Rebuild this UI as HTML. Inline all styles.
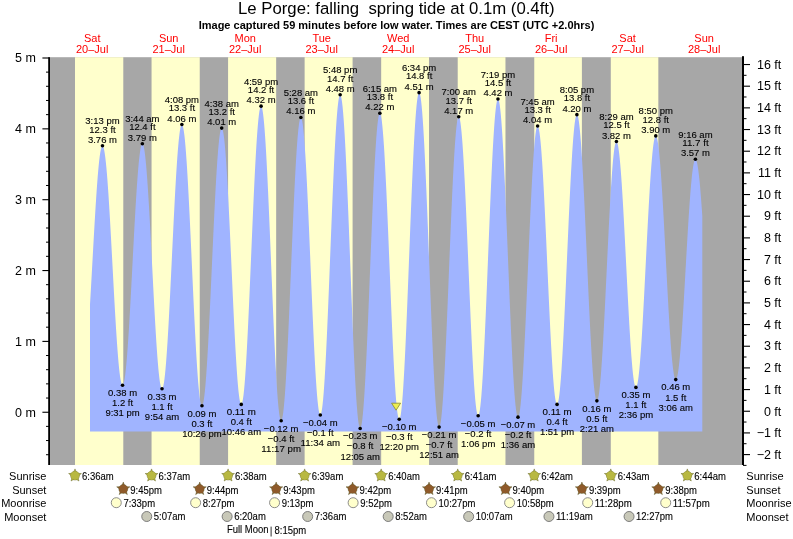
<!DOCTYPE html><html><head><meta charset="utf-8"><style>html,body{margin:0;padding:0;background:#fff;width:793px;height:539px;overflow:hidden}svg{display:block;will-change:transform}text{font-family:"Liberation Sans",sans-serif}</style></head><body>
<svg width="793" height="539" viewBox="0 0 793 539">
<text x="396.3" y="14.3" font-size="16.75" text-anchor="middle" fill="#000">Le Porge: falling &#160;spring tide at 0.1m (0.4ft)</text>
<text x="396.5" y="29" font-size="11" font-weight="bold" text-anchor="middle" fill="#000">Image captured 59 minutes before low water. Times are CEST (UTC +2.0hrs)</text>
<text x="92.21" y="41.8" font-size="11" text-anchor="middle" fill="#ff0000">Sat</text>
<text x="92.21" y="52.8" font-size="11" text-anchor="middle" fill="#ff0000">20–Jul</text>
<text x="168.70" y="41.8" font-size="11" text-anchor="middle" fill="#ff0000">Sun</text>
<text x="168.70" y="52.8" font-size="11" text-anchor="middle" fill="#ff0000">21–Jul</text>
<text x="245.19" y="41.8" font-size="11" text-anchor="middle" fill="#ff0000">Mon</text>
<text x="245.19" y="52.8" font-size="11" text-anchor="middle" fill="#ff0000">22–Jul</text>
<text x="321.68" y="41.8" font-size="11" text-anchor="middle" fill="#ff0000">Tue</text>
<text x="321.68" y="52.8" font-size="11" text-anchor="middle" fill="#ff0000">23–Jul</text>
<text x="398.17" y="41.8" font-size="11" text-anchor="middle" fill="#ff0000">Wed</text>
<text x="398.17" y="52.8" font-size="11" text-anchor="middle" fill="#ff0000">24–Jul</text>
<text x="474.65" y="41.8" font-size="11" text-anchor="middle" fill="#ff0000">Thu</text>
<text x="474.65" y="52.8" font-size="11" text-anchor="middle" fill="#ff0000">25–Jul</text>
<text x="551.14" y="41.8" font-size="11" text-anchor="middle" fill="#ff0000">Fri</text>
<text x="551.14" y="52.8" font-size="11" text-anchor="middle" fill="#ff0000">26–Jul</text>
<text x="627.63" y="41.8" font-size="11" text-anchor="middle" fill="#ff0000">Sat</text>
<text x="627.63" y="52.8" font-size="11" text-anchor="middle" fill="#ff0000">27–Jul</text>
<text x="704.12" y="41.8" font-size="11" text-anchor="middle" fill="#ff0000">Sun</text>
<text x="704.12" y="52.8" font-size="11" text-anchor="middle" fill="#ff0000">28–Jul</text>
<rect x="49" y="57.2" width="694" height="407.8" fill="#a7a7a7"/>
<rect x="75.00" y="57.2" width="48.28" height="407.8" fill="#ffffcc"/>
<rect x="151.55" y="57.2" width="48.18" height="407.8" fill="#ffffcc"/>
<rect x="228.09" y="57.2" width="48.07" height="407.8" fill="#ffffcc"/>
<rect x="304.63" y="57.2" width="47.96" height="407.8" fill="#ffffcc"/>
<rect x="381.17" y="57.2" width="47.86" height="407.8" fill="#ffffcc"/>
<rect x="457.71" y="57.2" width="47.75" height="407.8" fill="#ffffcc"/>
<rect x="534.25" y="57.2" width="47.65" height="407.8" fill="#ffffcc"/>
<rect x="610.79" y="57.2" width="47.54" height="407.8" fill="#ffffcc"/>
<path fill="#a0b4ff" d="M90.00,431.60 L90.00,304.41 L90.51,295.82 L91.02,286.99 L91.53,277.98 L92.04,268.85 L92.55,259.66 L93.06,250.47 L93.57,241.34 L94.08,232.33 L94.59,223.49 L95.10,214.89 L95.61,206.59 L96.12,198.63 L96.63,191.06 L97.14,183.95 L97.65,177.33 L98.16,171.25 L98.67,165.74 L99.18,160.85 L99.69,156.60 L100.20,153.03 L100.72,150.16 L101.23,148.00 L101.74,146.56 L102.25,145.87 L102.76,145.93 L103.27,146.74 L103.78,148.32 L104.29,150.63 L104.80,153.69 L105.31,157.45 L105.82,161.90 L106.33,167.01 L106.84,172.75 L107.35,179.08 L107.86,185.97 L108.37,193.36 L108.88,201.20 L109.39,209.46 L109.90,218.08 L110.41,227.00 L110.92,236.16 L111.43,245.51 L111.94,254.99 L112.45,264.54 L112.96,274.09 L113.47,283.59 L113.98,292.97 L114.49,302.18 L115.00,311.15 L115.51,319.84 L116.02,328.17 L116.53,336.11 L117.04,343.60 L117.55,350.60 L118.06,357.05 L118.57,362.91 L119.08,368.16 L119.59,372.75 L120.10,376.66 L120.61,379.87 L121.13,382.34 L121.64,384.07 L122.15,385.05 L122.66,385.26 L123.17,384.69 L123.68,383.33 L124.19,381.20 L124.70,378.30 L125.21,374.66 L125.72,370.30 L126.23,365.24 L126.74,359.53 L127.25,353.19 L127.76,346.28 L128.27,338.83 L128.78,330.89 L129.29,322.52 L129.80,313.76 L130.31,304.69 L130.82,295.35 L131.33,285.81 L131.84,276.13 L132.35,266.38 L132.86,256.61 L133.37,246.89 L133.88,237.29 L134.39,227.87 L134.90,218.68 L135.41,209.80 L135.92,201.27 L136.43,193.16 L136.94,185.51 L137.45,178.38 L137.96,171.82 L138.47,165.85 L138.98,160.54 L139.49,155.90 L140.00,151.98 L140.51,148.79 L141.02,146.36 L141.54,144.70 L142.05,143.83 L142.56,143.74 L143.07,144.47 L143.58,146.00 L144.09,148.34 L144.60,151.46 L145.11,155.34 L145.62,159.96 L146.13,165.29 L146.64,171.28 L147.15,177.91 L147.66,185.13 L148.17,192.89 L148.68,201.13 L149.19,209.81 L149.70,218.86 L150.21,228.23 L150.72,237.85 L151.23,247.65 L151.74,257.59 L152.25,267.58 L152.76,277.56 L153.27,287.46 L153.78,297.23 L154.29,306.79 L154.80,316.08 L155.31,325.04 L155.82,333.60 L156.33,341.72 L156.84,349.34 L157.35,356.41 L157.86,362.87 L158.37,368.69 L158.88,373.84 L159.39,378.26 L159.90,381.95 L160.41,384.86 L160.92,386.98 L161.44,388.30 L161.95,388.81 L162.46,388.49 L162.97,387.31 L163.48,385.28 L163.99,382.41 L164.50,378.73 L165.01,374.25 L165.52,369.01 L166.03,363.03 L166.54,356.36 L167.05,349.05 L167.56,341.13 L168.07,332.66 L168.58,323.70 L169.09,314.31 L169.60,304.53 L170.11,294.45 L170.62,284.12 L171.13,273.61 L171.64,262.99 L172.15,252.34 L172.66,241.71 L173.17,231.17 L173.68,220.80 L174.19,210.67 L174.70,200.84 L175.21,191.37 L175.72,182.32 L176.23,173.76 L176.74,165.74 L177.25,158.31 L177.76,151.52 L178.27,145.41 L178.78,140.03 L179.29,135.41 L179.80,131.57 L180.31,128.55 L180.82,126.37 L181.33,125.03 L181.84,124.55 L182.36,124.95 L182.87,126.23 L183.38,128.41 L183.89,131.45 L184.40,135.35 L184.91,140.08 L185.42,145.60 L185.93,151.88 L186.44,158.89 L186.95,166.57 L187.46,174.88 L187.97,183.77 L188.48,193.17 L188.99,203.03 L189.50,213.29 L190.01,223.88 L190.52,234.74 L191.03,245.78 L191.54,256.96 L192.05,268.18 L192.56,279.38 L193.07,290.50 L193.58,301.45 L194.09,312.17 L194.60,322.59 L195.11,332.65 L195.62,342.28 L196.13,351.41 L196.64,360.00 L197.15,367.98 L197.66,375.31 L198.17,381.93 L198.68,387.82 L199.19,392.92 L199.70,397.20 L200.21,400.65 L200.72,403.23 L201.23,404.94 L201.74,405.75 L202.25,405.66 L202.77,404.67 L203.28,402.77 L203.79,399.97 L204.30,396.30 L204.81,391.78 L205.32,386.44 L205.83,380.31 L206.34,373.43 L206.85,365.86 L207.36,357.64 L207.87,348.81 L208.38,339.46 L208.89,329.62 L209.40,319.37 L209.91,308.78 L210.42,297.91 L210.93,286.84 L211.44,275.63 L211.95,264.37 L212.46,253.13 L212.97,241.98 L213.48,230.99 L213.99,220.24 L214.50,209.80 L215.01,199.73 L215.52,190.10 L216.03,180.98 L216.54,172.43 L217.05,164.50 L217.56,157.24 L218.07,150.70 L218.58,144.93 L219.09,139.96 L219.60,135.82 L220.11,132.55 L220.62,130.17 L221.13,128.68 L221.64,128.10 L222.15,128.44 L222.66,129.71 L223.18,131.89 L223.69,134.98 L224.20,138.95 L224.71,143.78 L225.22,149.43 L225.73,155.86 L226.24,163.04 L226.75,170.91 L227.26,179.42 L227.77,188.51 L228.28,198.13 L228.79,208.20 L229.30,218.67 L229.81,229.45 L230.32,240.48 L230.83,251.69 L231.34,262.99 L231.85,274.32 L232.36,285.59 L232.87,296.73 L233.38,307.67 L233.89,318.32 L234.40,328.63 L234.91,338.52 L235.42,347.92 L235.93,356.78 L236.44,365.02 L236.95,372.60 L237.46,379.47 L237.97,385.57 L238.48,390.88 L238.99,395.34 L239.50,398.94 L240.01,401.65 L240.52,403.44 L241.03,404.32 L241.54,404.25 L242.05,403.22 L242.56,401.22 L243.07,398.27 L243.59,394.38 L244.10,389.58 L244.61,383.90 L245.12,377.38 L245.63,370.06 L246.14,361.99 L246.65,353.22 L247.16,343.81 L247.67,333.82 L248.18,323.32 L248.69,312.37 L249.20,301.05 L249.71,289.43 L250.22,277.58 L250.73,265.59 L251.24,253.53 L251.75,241.49 L252.26,229.53 L252.77,217.74 L253.28,206.20 L253.79,194.98 L254.30,184.15 L254.81,173.79 L255.32,163.96 L255.83,154.73 L256.34,146.15 L256.85,138.29 L257.36,131.20 L257.87,124.91 L258.38,119.48 L258.89,114.94 L259.40,111.32 L259.91,108.64 L260.42,106.92 L260.93,106.16 L261.44,106.39 L261.95,107.62 L262.46,109.85 L262.97,113.05 L263.49,117.21 L264.00,122.30 L264.51,128.29 L265.02,135.14 L265.53,142.80 L266.04,151.24 L266.55,160.39 L267.06,170.20 L267.57,180.60 L268.08,191.53 L268.59,202.91 L269.10,214.68 L269.61,226.77 L270.12,239.08 L270.63,251.55 L271.14,264.10 L271.65,276.64 L272.16,289.10 L272.67,301.39 L273.18,313.45 L273.69,325.18 L274.20,336.52 L274.71,347.39 L275.22,357.73 L275.73,367.47 L276.24,376.54 L276.75,384.90 L277.26,392.48 L277.77,399.24 L278.28,405.13 L278.79,410.12 L279.30,414.18 L279.81,417.27 L280.32,419.39 L280.83,420.51 L281.34,420.63 L281.85,419.75 L282.36,417.87 L282.87,415.01 L283.38,411.18 L283.89,406.41 L284.41,400.74 L284.92,394.19 L285.43,386.82 L285.94,378.67 L286.45,369.79 L286.96,360.25 L287.47,350.10 L287.98,339.42 L288.49,328.28 L289.00,316.74 L289.51,304.89 L290.02,292.80 L290.53,280.55 L291.04,268.23 L291.55,255.91 L292.06,243.68 L292.57,231.62 L293.08,219.81 L293.59,208.32 L294.10,197.23 L294.61,186.62 L295.12,176.56 L295.63,167.10 L296.14,158.32 L296.65,150.28 L297.16,143.01 L297.67,136.59 L298.18,131.04 L298.69,126.40 L299.20,122.70 L299.71,119.98 L300.22,118.24 L300.73,117.49 L301.24,117.76 L301.75,119.03 L302.26,121.30 L302.77,124.55 L303.28,128.77 L303.79,133.93 L304.30,139.98 L304.82,146.89 L305.33,154.61 L305.84,163.09 L306.35,172.27 L306.86,182.09 L307.37,192.48 L307.88,203.37 L308.39,214.69 L308.90,226.37 L309.41,238.31 L309.92,250.44 L310.43,262.68 L310.94,274.94 L311.45,287.14 L311.96,299.20 L312.47,311.04 L312.98,322.58 L313.49,333.73 L314.00,344.42 L314.51,354.58 L315.02,364.14 L315.53,373.04 L316.04,381.21 L316.55,388.60 L317.06,395.15 L317.57,400.84 L318.08,405.60 L318.59,409.42 L319.10,412.27 L319.61,414.12 L320.12,414.98 L320.63,414.81 L321.14,413.60 L321.65,411.36 L322.16,408.11 L322.67,403.85 L323.18,398.63 L323.69,392.47 L324.20,385.42 L324.72,377.52 L325.23,368.82 L325.74,359.37 L326.25,349.25 L326.76,338.52 L327.27,327.24 L327.78,315.49 L328.29,303.34 L328.80,290.88 L329.31,278.19 L329.82,265.35 L330.33,252.43 L330.84,239.54 L331.35,226.74 L331.86,214.13 L332.37,201.78 L332.88,189.78 L333.39,178.20 L333.90,167.12 L334.41,156.61 L334.92,146.74 L335.43,137.58 L335.94,129.18 L336.45,121.60 L336.96,114.88 L337.47,109.08 L337.98,104.22 L338.49,100.35 L339.00,97.48 L339.51,95.64 L340.02,94.83 L340.53,95.07 L341.04,96.38 L341.55,98.75 L342.06,102.16 L342.57,106.59 L343.08,112.01 L343.59,118.39 L344.10,125.69 L344.61,133.86 L345.12,142.85 L345.64,152.60 L346.15,163.05 L346.66,174.13 L347.17,185.77 L347.68,197.90 L348.19,210.43 L348.70,223.29 L349.21,236.40 L349.72,249.67 L350.23,263.02 L350.74,276.35 L351.25,289.60 L351.76,302.66 L352.27,315.46 L352.78,327.92 L353.29,339.95 L353.80,351.48 L354.31,362.44 L354.82,372.75 L355.33,382.35 L355.84,391.17 L356.35,399.17 L356.86,406.28 L357.37,412.47 L357.88,417.69 L358.39,421.92 L358.90,425.11 L359.41,427.26 L359.92,428.35 L360.43,428.37 L360.94,427.35 L361.45,425.28 L361.96,422.19 L362.47,418.09 L362.98,413.01 L363.49,406.98 L364.00,400.06 L364.51,392.27 L365.02,383.67 L365.53,374.33 L366.05,364.29 L366.56,353.64 L367.07,342.43 L367.58,330.75 L368.09,318.67 L368.60,306.27 L369.11,293.64 L369.62,280.86 L370.13,268.00 L370.64,255.17 L371.15,242.44 L371.66,229.91 L372.17,217.64 L372.68,205.73 L373.19,194.25 L373.70,183.28 L374.21,172.89 L374.72,163.15 L375.23,154.13 L375.74,145.89 L376.25,138.47 L376.76,131.94 L377.27,126.33 L377.78,121.68 L378.29,118.02 L378.80,115.38 L379.31,113.78 L379.82,113.21 L380.33,113.70 L380.84,115.22 L381.35,117.78 L381.86,121.36 L382.37,125.92 L382.88,131.44 L383.39,137.88 L383.90,145.20 L384.41,153.35 L384.92,162.27 L385.43,171.90 L385.94,182.17 L386.46,193.02 L386.97,204.37 L387.48,216.14 L387.99,228.25 L388.50,240.62 L389.01,253.17 L389.52,265.81 L390.03,278.45 L390.54,291.01 L391.05,303.39 L391.56,315.53 L392.07,327.32 L392.58,338.70 L393.09,349.59 L393.60,359.91 L394.11,369.58 L394.62,378.55 L395.13,386.75 L395.64,394.13 L396.15,400.64 L396.66,406.22 L397.17,410.86 L397.68,414.50 L398.19,417.13 L398.70,418.73 L399.21,419.28 L399.72,418.79 L400.23,417.23 L400.74,414.63 L401.25,410.99 L401.76,406.34 L402.27,400.72 L402.78,394.15 L403.29,386.68 L403.80,378.37 L404.31,369.25 L404.82,359.40 L405.33,348.88 L405.84,337.75 L406.36,326.09 L406.87,313.98 L407.38,301.48 L407.89,288.69 L408.40,275.69 L408.91,262.56 L409.42,249.38 L409.93,236.25 L410.44,223.25 L410.95,210.46 L411.46,197.97 L411.97,185.85 L412.48,174.19 L412.99,163.06 L413.50,152.54 L414.01,142.69 L414.52,133.58 L415.03,125.26 L415.54,117.79 L416.05,111.23 L416.56,105.60 L417.07,100.96 L417.58,97.32 L418.09,94.72 L418.60,93.16 L419.11,92.67 L419.62,93.24 L420.13,94.88 L420.64,97.57 L421.15,101.31 L421.66,106.06 L422.17,111.79 L422.68,118.48 L423.19,126.07 L423.70,134.52 L424.21,143.76 L424.72,153.76 L425.23,164.43 L425.74,175.71 L426.25,187.54 L426.76,199.82 L427.28,212.49 L427.79,225.47 L428.30,238.66 L428.81,251.99 L429.32,265.37 L429.83,278.72 L430.34,291.95 L430.85,304.96 L431.36,317.70 L431.87,330.06 L432.38,341.97 L432.89,353.35 L433.40,364.14 L433.91,374.26 L434.42,383.64 L434.93,392.24 L435.44,399.98 L435.95,406.83 L436.46,412.74 L436.97,417.67 L437.48,421.58 L437.99,424.47 L438.50,426.29 L439.01,427.05 L439.52,426.76 L440.03,425.42 L440.54,423.06 L441.05,419.69 L441.56,415.33 L442.07,410.01 L442.58,403.77 L443.09,396.65 L443.60,388.69 L444.11,379.96 L444.62,370.50 L445.13,360.38 L445.64,349.67 L446.15,338.44 L446.66,326.77 L447.17,314.73 L447.69,302.40 L448.20,289.87 L448.71,277.22 L449.22,264.53 L449.73,251.90 L450.24,239.39 L450.75,227.11 L451.26,215.12 L451.77,203.52 L452.28,192.37 L452.79,181.75 L453.30,171.73 L453.81,162.39 L454.32,153.78 L454.83,145.96 L455.34,138.97 L455.85,132.88 L456.36,127.72 L456.87,123.52 L457.38,120.32 L457.89,118.12 L458.40,116.96 L458.91,116.83 L459.42,117.72 L459.93,119.61 L460.44,122.51 L460.95,126.38 L461.46,131.20 L461.97,136.94 L462.48,143.56 L462.99,151.01 L463.50,159.25 L464.01,168.21 L464.52,177.84 L465.03,188.07 L465.54,198.83 L466.05,210.05 L466.56,221.65 L467.07,233.55 L467.59,245.68 L468.10,257.94 L468.61,270.26 L469.12,282.56 L469.63,294.74 L470.14,306.73 L470.65,318.45 L471.16,329.81 L471.67,340.73 L472.18,351.16 L472.69,361.00 L473.20,370.20 L473.71,378.70 L474.22,386.43 L474.73,393.34 L475.24,399.40 L475.75,404.54 L476.26,408.75 L476.77,411.99 L477.28,414.23 L477.79,415.48 L478.30,415.70 L478.81,414.90 L479.32,413.07 L479.83,410.21 L480.34,406.36 L480.85,401.54 L481.36,395.77 L481.87,389.09 L482.38,381.55 L482.89,373.21 L483.40,364.10 L483.91,354.29 L484.42,343.86 L484.93,332.85 L485.44,321.35 L485.95,309.44 L486.46,297.18 L486.97,284.66 L487.48,271.97 L487.99,259.17 L488.51,246.37 L489.02,233.64 L489.53,221.07 L490.04,208.73 L490.55,196.71 L491.06,185.09 L491.57,173.94 L492.08,163.33 L492.59,153.35 L493.10,144.04 L493.61,135.47 L494.12,127.71 L494.63,120.79 L495.14,114.76 L495.65,109.67 L496.16,105.54 L496.67,102.41 L497.18,100.29 L497.69,99.20 L498.20,99.14 L498.71,100.11 L499.22,102.08 L499.73,105.06 L500.24,109.01 L500.75,113.92 L501.26,119.76 L501.77,126.47 L502.28,134.04 L502.79,142.39 L503.30,151.49 L503.81,161.27 L504.32,171.67 L504.83,182.63 L505.34,194.06 L505.85,205.91 L506.36,218.09 L506.87,230.53 L507.38,243.15 L507.89,255.86 L508.40,268.58 L508.92,281.24 L509.43,293.75 L509.94,306.03 L510.45,318.00 L510.96,329.60 L511.47,340.73 L511.98,351.33 L512.49,361.34 L513.00,370.68 L513.51,379.31 L514.02,387.16 L514.53,394.18 L515.04,400.33 L515.55,405.57 L516.06,409.86 L516.57,413.18 L517.08,415.51 L517.59,416.83 L518.10,417.14 L518.61,416.46 L519.12,414.81 L519.63,412.20 L520.14,408.65 L520.65,404.19 L521.16,398.83 L521.67,392.63 L522.18,385.62 L522.69,377.85 L523.20,369.36 L523.71,360.22 L524.22,350.49 L524.73,340.23 L525.24,329.51 L525.75,318.41 L526.26,306.99 L526.77,295.33 L527.28,283.52 L527.79,271.63 L528.30,259.73 L528.81,247.92 L529.33,236.26 L529.84,224.84 L530.35,213.73 L530.86,203.01 L531.37,192.74 L531.88,183.00 L532.39,173.86 L532.90,165.37 L533.41,157.59 L533.92,150.56 L534.43,144.35 L534.94,138.99 L535.45,134.52 L535.96,130.96 L536.47,128.34 L536.98,126.68 L537.49,125.99 L538.00,126.26 L538.51,127.48 L539.02,129.63 L539.53,132.70 L540.04,136.68 L540.55,141.52 L541.06,147.21 L541.57,153.70 L542.08,160.95 L542.59,168.90 L543.10,177.51 L543.61,186.72 L544.12,196.46 L544.63,206.66 L545.14,217.26 L545.65,228.19 L546.16,239.37 L546.67,250.73 L547.18,262.18 L547.69,273.65 L548.20,285.07 L548.71,296.35 L549.23,307.42 L549.74,318.20 L550.25,328.63 L550.76,338.62 L551.27,348.11 L551.78,357.04 L552.29,365.34 L552.80,372.97 L553.31,379.86 L553.82,385.97 L554.33,391.26 L554.84,395.70 L555.35,399.25 L555.86,401.88 L556.37,403.59 L556.88,404.36 L557.39,404.18 L557.90,403.06 L558.41,401.01 L558.92,398.04 L559.43,394.16 L559.94,389.41 L560.45,383.81 L560.96,377.41 L561.47,370.24 L561.98,362.34 L562.49,353.78 L563.00,344.61 L563.51,334.88 L564.02,324.66 L564.53,314.01 L565.04,303.01 L565.55,291.73 L566.06,280.24 L566.57,268.61 L567.08,256.93 L567.59,245.26 L568.10,233.69 L568.61,222.28 L569.12,211.11 L569.63,200.26 L570.15,189.80 L570.66,179.79 L571.17,170.30 L571.68,161.38 L572.19,153.11 L572.70,145.53 L573.21,138.69 L573.72,132.64 L574.23,127.41 L574.74,123.05 L575.25,119.57 L575.76,117.00 L576.27,115.36 L576.78,114.66 L577.29,114.89 L577.80,116.05 L578.31,118.11 L578.82,121.08 L579.33,124.93 L579.84,129.63 L580.35,135.15 L580.86,141.47 L581.37,148.53 L581.88,156.30 L582.39,164.72 L582.90,173.74 L583.41,183.30 L583.92,193.34 L584.43,203.80 L584.94,214.60 L585.45,225.68 L585.96,236.96 L586.47,248.38 L586.98,259.86 L587.49,271.33 L588.00,282.71 L588.51,293.93 L589.02,304.91 L589.53,315.59 L590.04,325.90 L590.56,335.77 L591.07,345.14 L591.58,353.95 L592.09,362.13 L592.60,369.65 L593.11,376.44 L593.62,382.47 L594.13,387.70 L594.64,392.09 L595.15,395.61 L595.66,398.25 L596.17,399.98 L596.68,400.80 L597.19,400.70 L597.70,399.73 L598.21,397.90 L598.72,395.21 L599.23,391.69 L599.74,387.37 L600.25,382.26 L600.76,376.40 L601.27,369.84 L601.78,362.61 L602.29,354.78 L602.80,346.37 L603.31,337.47 L603.82,328.12 L604.33,318.38 L604.84,308.33 L605.35,298.03 L605.86,287.55 L606.37,276.96 L606.88,266.33 L607.39,255.73 L607.90,245.24 L608.41,234.92 L608.92,224.84 L609.43,215.08 L609.94,205.70 L610.45,196.75 L610.97,188.31 L611.48,180.42 L611.99,173.14 L612.50,166.52 L613.01,160.61 L613.52,155.44 L614.03,151.05 L614.54,147.46 L615.05,144.71 L615.56,142.80 L616.07,141.76 L616.58,141.59 L617.09,142.26 L617.60,143.75 L618.11,146.06 L618.62,149.18 L619.13,153.07 L619.64,157.71 L620.15,163.07 L620.66,169.12 L621.17,175.82 L621.68,183.11 L622.19,190.95 L622.70,199.29 L623.21,208.07 L623.72,217.23 L624.23,226.72 L624.74,236.45 L625.25,246.38 L625.76,256.42 L626.27,266.53 L626.78,276.62 L627.29,286.62 L627.80,296.48 L628.31,306.12 L628.82,315.48 L629.33,324.49 L629.84,333.10 L630.35,341.25 L630.87,348.87 L631.38,355.93 L631.89,362.37 L632.40,368.14 L632.91,373.22 L633.42,377.56 L633.93,381.14 L634.44,383.93 L634.95,385.91 L635.46,387.07 L635.97,387.40 L636.48,386.91 L636.99,385.60 L637.50,383.49 L638.01,380.58 L638.52,376.90 L639.03,372.47 L639.54,367.32 L640.05,361.48 L640.56,354.99 L641.07,347.89 L641.58,340.24 L642.09,332.07 L642.60,323.44 L643.11,314.41 L643.62,305.04 L644.13,295.38 L644.64,285.51 L645.15,275.48 L645.66,265.36 L646.17,255.21 L646.68,245.11 L647.19,235.12 L647.70,225.29 L648.21,215.71 L648.72,206.42 L649.23,197.49 L649.74,188.98 L650.25,180.95 L650.76,173.43 L651.27,166.50 L651.79,160.18 L652.30,154.52 L652.81,149.56 L653.32,145.33 L653.83,141.85 L654.34,139.16 L654.85,137.26 L655.36,136.17 L655.87,135.90 L656.38,136.42 L656.89,137.72 L657.40,139.80 L657.91,142.64 L658.42,146.22 L658.93,150.51 L659.44,155.50 L659.95,161.14 L660.46,167.41 L660.97,174.26 L661.48,181.65 L661.99,189.52 L662.50,197.84 L663.01,206.54 L663.52,215.57 L664.03,224.87 L664.54,234.39 L665.05,244.05 L665.56,253.80 L666.07,263.58 L666.58,273.32 L667.09,282.96 L667.60,292.44 L668.11,301.69 L668.62,310.67 L669.13,319.30 L669.64,327.53 L670.15,335.32 L670.66,342.60 L671.17,349.34 L671.69,355.49 L672.20,361.01 L672.71,365.87 L673.22,370.03 L673.73,373.46 L674.24,376.15 L674.75,378.08 L675.26,379.24 L675.77,379.61 L676.28,379.22 L676.79,378.11 L677.30,376.27 L677.81,373.72 L678.32,370.48 L678.83,366.57 L679.34,362.01 L679.85,356.83 L680.36,351.08 L680.87,344.78 L681.38,337.98 L681.89,330.72 L682.40,323.06 L682.91,315.04 L683.42,306.72 L683.93,298.15 L684.44,289.39 L684.95,280.49 L685.46,271.52 L685.97,262.54 L686.48,253.61 L686.99,244.78 L687.50,236.11 L688.01,227.67 L688.52,219.50 L689.03,211.66 L689.54,204.21 L690.05,197.20 L690.56,190.66 L691.07,184.65 L691.58,179.20 L692.09,174.35 L692.61,170.13 L693.12,166.57 L693.63,163.70 L694.14,161.53 L694.65,160.08 L695.16,159.35 L695.67,159.35 L696.18,160.04 L696.69,161.41 L697.20,163.46 L697.71,166.15 L698.22,169.49 L698.73,173.45 L699.24,178.00 L699.75,183.11 L700.26,188.75 L700.77,194.88 L701.28,201.47 L701.79,208.47 L702.30,215.83 L702.30,431.60 Z"/>
<rect x="48.2" y="57.2" width="1.8" height="407.8" fill="#000"/>
<rect x="742" y="56.2" width="2" height="408.8" fill="#000"/>
<rect x="42.4" y="411.70" width="6.6" height="1.1" fill="#000"/>
<text x="35.8" y="416.50" font-size="12.5" text-anchor="end" fill="#000">0 m</text>
<rect x="42.4" y="340.85" width="6.6" height="1.1" fill="#000"/>
<text x="35.8" y="345.65" font-size="12.5" text-anchor="end" fill="#000">1 m</text>
<rect x="42.4" y="270.00" width="6.6" height="1.1" fill="#000"/>
<text x="35.8" y="274.80" font-size="12.5" text-anchor="end" fill="#000">2 m</text>
<rect x="42.4" y="199.15" width="6.6" height="1.1" fill="#000"/>
<text x="35.8" y="203.95" font-size="12.5" text-anchor="end" fill="#000">3 m</text>
<rect x="42.4" y="128.30" width="6.6" height="1.1" fill="#000"/>
<text x="35.8" y="133.10" font-size="12.5" text-anchor="end" fill="#000">4 m</text>
<rect x="42.4" y="57.45" width="6.6" height="1.1" fill="#000"/>
<text x="35.8" y="62.25" font-size="12.5" text-anchor="end" fill="#000">5 m</text>
<rect x="46" y="454.21" width="3" height="1" fill="#000"/>
<rect x="46" y="440.04" width="3" height="1" fill="#000"/>
<rect x="46" y="425.87" width="3" height="1" fill="#000"/>
<rect x="46" y="397.53" width="3" height="1" fill="#000"/>
<rect x="46" y="383.36" width="3" height="1" fill="#000"/>
<rect x="46" y="369.19" width="3" height="1" fill="#000"/>
<rect x="46" y="355.02" width="3" height="1" fill="#000"/>
<rect x="46" y="326.68" width="3" height="1" fill="#000"/>
<rect x="46" y="312.51" width="3" height="1" fill="#000"/>
<rect x="46" y="298.34" width="3" height="1" fill="#000"/>
<rect x="46" y="284.17" width="3" height="1" fill="#000"/>
<rect x="46" y="255.83" width="3" height="1" fill="#000"/>
<rect x="46" y="241.66" width="3" height="1" fill="#000"/>
<rect x="46" y="227.49" width="3" height="1" fill="#000"/>
<rect x="46" y="213.32" width="3" height="1" fill="#000"/>
<rect x="46" y="184.98" width="3" height="1" fill="#000"/>
<rect x="46" y="170.81" width="3" height="1" fill="#000"/>
<rect x="46" y="156.64" width="3" height="1" fill="#000"/>
<rect x="46" y="142.47" width="3" height="1" fill="#000"/>
<rect x="46" y="114.13" width="3" height="1" fill="#000"/>
<rect x="46" y="99.96" width="3" height="1" fill="#000"/>
<rect x="46" y="85.79" width="3" height="1" fill="#000"/>
<rect x="46" y="71.62" width="3" height="1" fill="#000"/>
<rect x="743" y="464.88" width="3.5" height="1" fill="#000"/>
<rect x="743" y="454.04" width="7" height="1.1" fill="#000"/>
<text x="781.3" y="458.84" font-size="12.5" text-anchor="end" fill="#000">−2 ft</text>
<rect x="743" y="443.20" width="3.5" height="1" fill="#000"/>
<rect x="743" y="432.37" width="7" height="1.1" fill="#000"/>
<text x="781.3" y="437.17" font-size="12.5" text-anchor="end" fill="#000">−1 ft</text>
<rect x="743" y="421.53" width="3.5" height="1" fill="#000"/>
<rect x="743" y="410.70" width="7" height="1.1" fill="#000"/>
<text x="781.3" y="415.50" font-size="12.5" text-anchor="end" fill="#000">0 ft</text>
<rect x="743" y="399.87" width="3.5" height="1" fill="#000"/>
<rect x="743" y="389.03" width="7" height="1.1" fill="#000"/>
<text x="781.3" y="393.83" font-size="12.5" text-anchor="end" fill="#000">1 ft</text>
<rect x="743" y="378.19" width="3.5" height="1" fill="#000"/>
<rect x="743" y="367.36" width="7" height="1.1" fill="#000"/>
<text x="781.3" y="372.16" font-size="12.5" text-anchor="end" fill="#000">2 ft</text>
<rect x="743" y="356.52" width="3.5" height="1" fill="#000"/>
<rect x="743" y="345.69" width="7" height="1.1" fill="#000"/>
<text x="781.3" y="350.49" font-size="12.5" text-anchor="end" fill="#000">3 ft</text>
<rect x="743" y="334.86" width="3.5" height="1" fill="#000"/>
<rect x="743" y="324.02" width="7" height="1.1" fill="#000"/>
<text x="781.3" y="328.82" font-size="12.5" text-anchor="end" fill="#000">4 ft</text>
<rect x="743" y="313.18" width="3.5" height="1" fill="#000"/>
<rect x="743" y="302.35" width="7" height="1.1" fill="#000"/>
<text x="781.3" y="307.15" font-size="12.5" text-anchor="end" fill="#000">5 ft</text>
<rect x="743" y="291.51" width="3.5" height="1" fill="#000"/>
<rect x="743" y="280.68" width="7" height="1.1" fill="#000"/>
<text x="781.3" y="285.48" font-size="12.5" text-anchor="end" fill="#000">6 ft</text>
<rect x="743" y="269.84" width="3.5" height="1" fill="#000"/>
<rect x="743" y="259.01" width="7" height="1.1" fill="#000"/>
<text x="781.3" y="263.81" font-size="12.5" text-anchor="end" fill="#000">7 ft</text>
<rect x="743" y="248.17" width="3.5" height="1" fill="#000"/>
<rect x="743" y="237.34" width="7" height="1.1" fill="#000"/>
<text x="781.3" y="242.14" font-size="12.5" text-anchor="end" fill="#000">8 ft</text>
<rect x="743" y="226.50" width="3.5" height="1" fill="#000"/>
<rect x="743" y="215.67" width="7" height="1.1" fill="#000"/>
<text x="781.3" y="220.47" font-size="12.5" text-anchor="end" fill="#000">9 ft</text>
<rect x="743" y="204.83" width="3.5" height="1" fill="#000"/>
<rect x="743" y="194.00" width="7" height="1.1" fill="#000"/>
<text x="781.3" y="198.80" font-size="12.5" text-anchor="end" fill="#000">10 ft</text>
<rect x="743" y="183.16" width="3.5" height="1" fill="#000"/>
<rect x="743" y="172.33" width="7" height="1.1" fill="#000"/>
<text x="781.3" y="177.13" font-size="12.5" text-anchor="end" fill="#000">11 ft</text>
<rect x="743" y="161.49" width="3.5" height="1" fill="#000"/>
<rect x="743" y="150.66" width="7" height="1.1" fill="#000"/>
<text x="781.3" y="155.46" font-size="12.5" text-anchor="end" fill="#000">12 ft</text>
<rect x="743" y="139.82" width="3.5" height="1" fill="#000"/>
<rect x="743" y="128.99" width="7" height="1.1" fill="#000"/>
<text x="781.3" y="133.79" font-size="12.5" text-anchor="end" fill="#000">13 ft</text>
<rect x="743" y="118.15" width="3.5" height="1" fill="#000"/>
<rect x="743" y="107.32" width="7" height="1.1" fill="#000"/>
<text x="781.3" y="112.12" font-size="12.5" text-anchor="end" fill="#000">14 ft</text>
<rect x="743" y="96.48" width="3.5" height="1" fill="#000"/>
<rect x="743" y="85.65" width="7" height="1.1" fill="#000"/>
<text x="781.3" y="90.45" font-size="12.5" text-anchor="end" fill="#000">15 ft</text>
<rect x="743" y="74.81" width="3.5" height="1" fill="#000"/>
<rect x="743" y="63.98" width="7" height="1.1" fill="#000"/>
<text x="781.3" y="68.78" font-size="12.5" text-anchor="end" fill="#000">16 ft</text>
<circle cx="102.47" cy="145.80" r="1.8" fill="#000"/>
<text x="102.47" y="124.40" font-size="9.75" text-anchor="middle" fill="#000" stroke="#000" stroke-width="0.18" stroke-opacity="0.6" textLength="34.33" lengthAdjust="spacingAndGlyphs">3:13 pm</text>
<text x="102.47" y="132.60" font-size="9.75" text-anchor="middle" fill="#000" stroke="#000" stroke-width="0.18" stroke-opacity="0.6" textLength="26.41" lengthAdjust="spacingAndGlyphs">12.3 ft</text>
<text x="102.47" y="142.80" font-size="9.75" text-anchor="middle" fill="#000" stroke="#000" stroke-width="0.18" stroke-opacity="0.6" textLength="29.04" lengthAdjust="spacingAndGlyphs">3.76 m</text>
<circle cx="122.54" cy="385.28" r="1.8" fill="#000"/>
<text x="122.54" y="396.08" font-size="9.75" text-anchor="middle" fill="#000" stroke="#000" stroke-width="0.18" stroke-opacity="0.6" textLength="29.04" lengthAdjust="spacingAndGlyphs">0.38 m</text>
<text x="122.54" y="406.18" font-size="9.75" text-anchor="middle" fill="#000" stroke="#000" stroke-width="0.18" stroke-opacity="0.6" textLength="21.12" lengthAdjust="spacingAndGlyphs">1.2 ft</text>
<text x="122.54" y="416.28" font-size="9.75" text-anchor="middle" fill="#000" stroke="#000" stroke-width="0.18" stroke-opacity="0.6" textLength="34.33" lengthAdjust="spacingAndGlyphs">9:31 pm</text>
<circle cx="142.36" cy="143.68" r="1.8" fill="#000"/>
<text x="142.36" y="122.28" font-size="9.75" text-anchor="middle" fill="#000" stroke="#000" stroke-width="0.18" stroke-opacity="0.6" textLength="34.33" lengthAdjust="spacingAndGlyphs">3:44 am</text>
<text x="142.36" y="130.48" font-size="9.75" text-anchor="middle" fill="#000" stroke="#000" stroke-width="0.18" stroke-opacity="0.6" textLength="26.41" lengthAdjust="spacingAndGlyphs">12.4 ft</text>
<text x="142.36" y="140.68" font-size="9.75" text-anchor="middle" fill="#000" stroke="#000" stroke-width="0.18" stroke-opacity="0.6" textLength="29.04" lengthAdjust="spacingAndGlyphs">3.79 m</text>
<circle cx="162.01" cy="388.82" r="1.8" fill="#000"/>
<text x="162.01" y="399.62" font-size="9.75" text-anchor="middle" fill="#000" stroke="#000" stroke-width="0.18" stroke-opacity="0.6" textLength="29.04" lengthAdjust="spacingAndGlyphs">0.33 m</text>
<text x="162.01" y="409.72" font-size="9.75" text-anchor="middle" fill="#000" stroke="#000" stroke-width="0.18" stroke-opacity="0.6" textLength="21.12" lengthAdjust="spacingAndGlyphs">1.1 ft</text>
<text x="162.01" y="419.82" font-size="9.75" text-anchor="middle" fill="#000" stroke="#000" stroke-width="0.18" stroke-opacity="0.6" textLength="34.33" lengthAdjust="spacingAndGlyphs">9:54 am</text>
<circle cx="181.87" cy="124.55" r="1.8" fill="#000"/>
<text x="181.87" y="103.15" font-size="9.75" text-anchor="middle" fill="#000" stroke="#000" stroke-width="0.18" stroke-opacity="0.6" textLength="34.33" lengthAdjust="spacingAndGlyphs">4:08 pm</text>
<text x="181.87" y="111.35" font-size="9.75" text-anchor="middle" fill="#000" stroke="#000" stroke-width="0.18" stroke-opacity="0.6" textLength="26.41" lengthAdjust="spacingAndGlyphs">13.3 ft</text>
<text x="181.87" y="121.55" font-size="9.75" text-anchor="middle" fill="#000" stroke="#000" stroke-width="0.18" stroke-opacity="0.6" textLength="29.04" lengthAdjust="spacingAndGlyphs">4.06 m</text>
<circle cx="201.95" cy="405.82" r="1.8" fill="#000"/>
<text x="201.95" y="416.62" font-size="9.75" text-anchor="middle" fill="#000" stroke="#000" stroke-width="0.18" stroke-opacity="0.6" textLength="29.04" lengthAdjust="spacingAndGlyphs">0.09 m</text>
<text x="201.95" y="426.72" font-size="9.75" text-anchor="middle" fill="#000" stroke="#000" stroke-width="0.18" stroke-opacity="0.6" textLength="21.12" lengthAdjust="spacingAndGlyphs">0.3 ft</text>
<text x="201.95" y="436.82" font-size="9.75" text-anchor="middle" fill="#000" stroke="#000" stroke-width="0.18" stroke-opacity="0.6" textLength="39.61" lengthAdjust="spacingAndGlyphs">10:26 pm</text>
<circle cx="221.71" cy="128.09" r="1.8" fill="#000"/>
<text x="221.71" y="106.69" font-size="9.75" text-anchor="middle" fill="#000" stroke="#000" stroke-width="0.18" stroke-opacity="0.6" textLength="34.33" lengthAdjust="spacingAndGlyphs">4:38 am</text>
<text x="221.71" y="114.89" font-size="9.75" text-anchor="middle" fill="#000" stroke="#000" stroke-width="0.18" stroke-opacity="0.6" textLength="26.41" lengthAdjust="spacingAndGlyphs">13.2 ft</text>
<text x="221.71" y="125.09" font-size="9.75" text-anchor="middle" fill="#000" stroke="#000" stroke-width="0.18" stroke-opacity="0.6" textLength="29.04" lengthAdjust="spacingAndGlyphs">4.01 m</text>
<circle cx="241.26" cy="404.41" r="1.8" fill="#000"/>
<text x="241.26" y="415.21" font-size="9.75" text-anchor="middle" fill="#000" stroke="#000" stroke-width="0.18" stroke-opacity="0.6" textLength="29.04" lengthAdjust="spacingAndGlyphs">0.11 m</text>
<text x="241.26" y="425.31" font-size="9.75" text-anchor="middle" fill="#000" stroke="#000" stroke-width="0.18" stroke-opacity="0.6" textLength="21.12" lengthAdjust="spacingAndGlyphs">0.4 ft</text>
<text x="241.26" y="435.41" font-size="9.75" text-anchor="middle" fill="#000" stroke="#000" stroke-width="0.18" stroke-opacity="0.6" textLength="39.61" lengthAdjust="spacingAndGlyphs">10:46 am</text>
<circle cx="261.07" cy="106.13" r="1.8" fill="#000"/>
<text x="261.07" y="84.73" font-size="9.75" text-anchor="middle" fill="#000" stroke="#000" stroke-width="0.18" stroke-opacity="0.6" textLength="34.33" lengthAdjust="spacingAndGlyphs">4:59 pm</text>
<text x="261.07" y="92.93" font-size="9.75" text-anchor="middle" fill="#000" stroke="#000" stroke-width="0.18" stroke-opacity="0.6" textLength="26.41" lengthAdjust="spacingAndGlyphs">14.2 ft</text>
<text x="261.07" y="103.13" font-size="9.75" text-anchor="middle" fill="#000" stroke="#000" stroke-width="0.18" stroke-opacity="0.6" textLength="29.04" lengthAdjust="spacingAndGlyphs">4.32 m</text>
<circle cx="281.15" cy="420.70" r="1.8" fill="#000"/>
<text x="281.15" y="431.50" font-size="9.75" text-anchor="middle" fill="#000" stroke="#000" stroke-width="0.18" stroke-opacity="0.6" textLength="34.59" lengthAdjust="spacingAndGlyphs">−0.12 m</text>
<text x="281.15" y="441.60" font-size="9.75" text-anchor="middle" fill="#000" stroke="#000" stroke-width="0.18" stroke-opacity="0.6" textLength="26.67" lengthAdjust="spacingAndGlyphs">−0.4 ft</text>
<text x="281.15" y="451.70" font-size="9.75" text-anchor="middle" fill="#000" stroke="#000" stroke-width="0.18" stroke-opacity="0.6" textLength="39.61" lengthAdjust="spacingAndGlyphs">11:17 pm</text>
<circle cx="300.86" cy="117.46" r="1.8" fill="#000"/>
<text x="300.86" y="96.06" font-size="9.75" text-anchor="middle" fill="#000" stroke="#000" stroke-width="0.18" stroke-opacity="0.6" textLength="34.33" lengthAdjust="spacingAndGlyphs">5:28 am</text>
<text x="300.86" y="104.26" font-size="9.75" text-anchor="middle" fill="#000" stroke="#000" stroke-width="0.18" stroke-opacity="0.6" textLength="26.41" lengthAdjust="spacingAndGlyphs">13.6 ft</text>
<text x="300.86" y="114.46" font-size="9.75" text-anchor="middle" fill="#000" stroke="#000" stroke-width="0.18" stroke-opacity="0.6" textLength="29.04" lengthAdjust="spacingAndGlyphs">4.16 m</text>
<circle cx="320.30" cy="415.03" r="1.8" fill="#000"/>
<text x="320.30" y="425.83" font-size="9.75" text-anchor="middle" fill="#000" stroke="#000" stroke-width="0.18" stroke-opacity="0.6" textLength="34.59" lengthAdjust="spacingAndGlyphs">−0.04 m</text>
<text x="320.30" y="435.93" font-size="9.75" text-anchor="middle" fill="#000" stroke="#000" stroke-width="0.18" stroke-opacity="0.6" textLength="26.67" lengthAdjust="spacingAndGlyphs">−0.1 ft</text>
<text x="320.30" y="446.03" font-size="9.75" text-anchor="middle" fill="#000" stroke="#000" stroke-width="0.18" stroke-opacity="0.6" textLength="39.61" lengthAdjust="spacingAndGlyphs">11:34 am</text>
<circle cx="340.16" cy="94.79" r="1.8" fill="#000"/>
<text x="340.16" y="73.39" font-size="9.75" text-anchor="middle" fill="#000" stroke="#000" stroke-width="0.18" stroke-opacity="0.6" textLength="34.33" lengthAdjust="spacingAndGlyphs">5:48 pm</text>
<text x="340.16" y="81.59" font-size="9.75" text-anchor="middle" fill="#000" stroke="#000" stroke-width="0.18" stroke-opacity="0.6" textLength="26.41" lengthAdjust="spacingAndGlyphs">14.7 ft</text>
<text x="340.16" y="91.79" font-size="9.75" text-anchor="middle" fill="#000" stroke="#000" stroke-width="0.18" stroke-opacity="0.6" textLength="29.04" lengthAdjust="spacingAndGlyphs">4.48 m</text>
<circle cx="360.19" cy="428.50" r="1.8" fill="#000"/>
<text x="360.19" y="439.30" font-size="9.75" text-anchor="middle" fill="#000" stroke="#000" stroke-width="0.18" stroke-opacity="0.6" textLength="34.59" lengthAdjust="spacingAndGlyphs">−0.23 m</text>
<text x="360.19" y="449.40" font-size="9.75" text-anchor="middle" fill="#000" stroke="#000" stroke-width="0.18" stroke-opacity="0.6" textLength="26.67" lengthAdjust="spacingAndGlyphs">−0.8 ft</text>
<text x="360.19" y="459.50" font-size="9.75" text-anchor="middle" fill="#000" stroke="#000" stroke-width="0.18" stroke-opacity="0.6" textLength="39.61" lengthAdjust="spacingAndGlyphs">12:05 am</text>
<circle cx="379.84" cy="113.21" r="1.8" fill="#000"/>
<text x="379.84" y="91.81" font-size="9.75" text-anchor="middle" fill="#000" stroke="#000" stroke-width="0.18" stroke-opacity="0.6" textLength="34.33" lengthAdjust="spacingAndGlyphs">6:15 am</text>
<text x="379.84" y="100.01" font-size="9.75" text-anchor="middle" fill="#000" stroke="#000" stroke-width="0.18" stroke-opacity="0.6" textLength="26.41" lengthAdjust="spacingAndGlyphs">13.8 ft</text>
<text x="379.84" y="110.21" font-size="9.75" text-anchor="middle" fill="#000" stroke="#000" stroke-width="0.18" stroke-opacity="0.6" textLength="29.04" lengthAdjust="spacingAndGlyphs">4.22 m</text>
<circle cx="399.23" cy="419.28" r="1.8" fill="#000"/>
<text x="399.23" y="430.08" font-size="9.75" text-anchor="middle" fill="#000" stroke="#000" stroke-width="0.18" stroke-opacity="0.6" textLength="34.59" lengthAdjust="spacingAndGlyphs">−0.10 m</text>
<text x="399.23" y="440.18" font-size="9.75" text-anchor="middle" fill="#000" stroke="#000" stroke-width="0.18" stroke-opacity="0.6" textLength="26.67" lengthAdjust="spacingAndGlyphs">−0.3 ft</text>
<text x="399.23" y="450.28" font-size="9.75" text-anchor="middle" fill="#000" stroke="#000" stroke-width="0.18" stroke-opacity="0.6" textLength="39.61" lengthAdjust="spacingAndGlyphs">12:20 pm</text>
<circle cx="419.09" cy="92.67" r="1.8" fill="#000"/>
<text x="419.09" y="71.27" font-size="9.75" text-anchor="middle" fill="#000" stroke="#000" stroke-width="0.18" stroke-opacity="0.6" textLength="34.33" lengthAdjust="spacingAndGlyphs">6:34 pm</text>
<text x="419.09" y="79.47" font-size="9.75" text-anchor="middle" fill="#000" stroke="#000" stroke-width="0.18" stroke-opacity="0.6" textLength="26.41" lengthAdjust="spacingAndGlyphs">14.8 ft</text>
<text x="419.09" y="89.67" font-size="9.75" text-anchor="middle" fill="#000" stroke="#000" stroke-width="0.18" stroke-opacity="0.6" textLength="29.04" lengthAdjust="spacingAndGlyphs">4.51 m</text>
<circle cx="439.12" cy="427.08" r="1.8" fill="#000"/>
<text x="439.12" y="437.88" font-size="9.75" text-anchor="middle" fill="#000" stroke="#000" stroke-width="0.18" stroke-opacity="0.6" textLength="34.59" lengthAdjust="spacingAndGlyphs">−0.21 m</text>
<text x="439.12" y="447.98" font-size="9.75" text-anchor="middle" fill="#000" stroke="#000" stroke-width="0.18" stroke-opacity="0.6" textLength="26.67" lengthAdjust="spacingAndGlyphs">−0.7 ft</text>
<text x="439.12" y="458.08" font-size="9.75" text-anchor="middle" fill="#000" stroke="#000" stroke-width="0.18" stroke-opacity="0.6" textLength="39.61" lengthAdjust="spacingAndGlyphs">12:51 am</text>
<circle cx="458.72" cy="116.76" r="1.8" fill="#000"/>
<text x="458.72" y="95.36" font-size="9.75" text-anchor="middle" fill="#000" stroke="#000" stroke-width="0.18" stroke-opacity="0.6" textLength="34.33" lengthAdjust="spacingAndGlyphs">7:00 am</text>
<text x="458.72" y="103.56" font-size="9.75" text-anchor="middle" fill="#000" stroke="#000" stroke-width="0.18" stroke-opacity="0.6" textLength="26.41" lengthAdjust="spacingAndGlyphs">13.7 ft</text>
<text x="458.72" y="113.76" font-size="9.75" text-anchor="middle" fill="#000" stroke="#000" stroke-width="0.18" stroke-opacity="0.6" textLength="29.04" lengthAdjust="spacingAndGlyphs">4.17 m</text>
<circle cx="478.16" cy="415.74" r="1.8" fill="#000"/>
<text x="478.16" y="426.54" font-size="9.75" text-anchor="middle" fill="#000" stroke="#000" stroke-width="0.18" stroke-opacity="0.6" textLength="34.59" lengthAdjust="spacingAndGlyphs">−0.05 m</text>
<text x="478.16" y="436.64" font-size="9.75" text-anchor="middle" fill="#000" stroke="#000" stroke-width="0.18" stroke-opacity="0.6" textLength="26.67" lengthAdjust="spacingAndGlyphs">−0.2 ft</text>
<text x="478.16" y="446.74" font-size="9.75" text-anchor="middle" fill="#000" stroke="#000" stroke-width="0.18" stroke-opacity="0.6" textLength="34.33" lengthAdjust="spacingAndGlyphs">1:06 pm</text>
<circle cx="497.97" cy="99.04" r="1.8" fill="#000"/>
<text x="497.97" y="77.64" font-size="9.75" text-anchor="middle" fill="#000" stroke="#000" stroke-width="0.18" stroke-opacity="0.6" textLength="34.33" lengthAdjust="spacingAndGlyphs">7:19 pm</text>
<text x="497.97" y="85.84" font-size="9.75" text-anchor="middle" fill="#000" stroke="#000" stroke-width="0.18" stroke-opacity="0.6" textLength="26.41" lengthAdjust="spacingAndGlyphs">14.5 ft</text>
<text x="497.97" y="96.04" font-size="9.75" text-anchor="middle" fill="#000" stroke="#000" stroke-width="0.18" stroke-opacity="0.6" textLength="29.04" lengthAdjust="spacingAndGlyphs">4.42 m</text>
<circle cx="518.00" cy="417.16" r="1.8" fill="#000"/>
<text x="518.00" y="427.96" font-size="9.75" text-anchor="middle" fill="#000" stroke="#000" stroke-width="0.18" stroke-opacity="0.6" textLength="34.59" lengthAdjust="spacingAndGlyphs">−0.07 m</text>
<text x="518.00" y="438.06" font-size="9.75" text-anchor="middle" fill="#000" stroke="#000" stroke-width="0.18" stroke-opacity="0.6" textLength="26.67" lengthAdjust="spacingAndGlyphs">−0.2 ft</text>
<text x="518.00" y="448.16" font-size="9.75" text-anchor="middle" fill="#000" stroke="#000" stroke-width="0.18" stroke-opacity="0.6" textLength="34.33" lengthAdjust="spacingAndGlyphs">1:36 am</text>
<circle cx="537.60" cy="125.97" r="1.8" fill="#000"/>
<text x="537.60" y="104.57" font-size="9.75" text-anchor="middle" fill="#000" stroke="#000" stroke-width="0.18" stroke-opacity="0.6" textLength="34.33" lengthAdjust="spacingAndGlyphs">7:45 am</text>
<text x="537.60" y="112.77" font-size="9.75" text-anchor="middle" fill="#000" stroke="#000" stroke-width="0.18" stroke-opacity="0.6" textLength="26.41" lengthAdjust="spacingAndGlyphs">13.3 ft</text>
<text x="537.60" y="122.97" font-size="9.75" text-anchor="middle" fill="#000" stroke="#000" stroke-width="0.18" stroke-opacity="0.6" textLength="29.04" lengthAdjust="spacingAndGlyphs">4.04 m</text>
<circle cx="557.04" cy="404.41" r="1.8" fill="#000"/>
<text x="557.04" y="415.21" font-size="9.75" text-anchor="middle" fill="#000" stroke="#000" stroke-width="0.18" stroke-opacity="0.6" textLength="29.04" lengthAdjust="spacingAndGlyphs">0.11 m</text>
<text x="557.04" y="425.31" font-size="9.75" text-anchor="middle" fill="#000" stroke="#000" stroke-width="0.18" stroke-opacity="0.6" textLength="21.12" lengthAdjust="spacingAndGlyphs">0.4 ft</text>
<text x="557.04" y="435.41" font-size="9.75" text-anchor="middle" fill="#000" stroke="#000" stroke-width="0.18" stroke-opacity="0.6" textLength="34.33" lengthAdjust="spacingAndGlyphs">1:51 pm</text>
<circle cx="576.90" cy="114.63" r="1.8" fill="#000"/>
<text x="576.90" y="93.23" font-size="9.75" text-anchor="middle" fill="#000" stroke="#000" stroke-width="0.18" stroke-opacity="0.6" textLength="34.33" lengthAdjust="spacingAndGlyphs">8:05 pm</text>
<text x="576.90" y="101.43" font-size="9.75" text-anchor="middle" fill="#000" stroke="#000" stroke-width="0.18" stroke-opacity="0.6" textLength="26.41" lengthAdjust="spacingAndGlyphs">13.8 ft</text>
<text x="576.90" y="111.63" font-size="9.75" text-anchor="middle" fill="#000" stroke="#000" stroke-width="0.18" stroke-opacity="0.6" textLength="29.04" lengthAdjust="spacingAndGlyphs">4.20 m</text>
<circle cx="596.88" cy="400.86" r="1.8" fill="#000"/>
<text x="596.88" y="411.66" font-size="9.75" text-anchor="middle" fill="#000" stroke="#000" stroke-width="0.18" stroke-opacity="0.6" textLength="29.04" lengthAdjust="spacingAndGlyphs">0.16 m</text>
<text x="596.88" y="421.76" font-size="9.75" text-anchor="middle" fill="#000" stroke="#000" stroke-width="0.18" stroke-opacity="0.6" textLength="21.12" lengthAdjust="spacingAndGlyphs">0.5 ft</text>
<text x="596.88" y="431.86" font-size="9.75" text-anchor="middle" fill="#000" stroke="#000" stroke-width="0.18" stroke-opacity="0.6" textLength="34.33" lengthAdjust="spacingAndGlyphs">2:21 am</text>
<circle cx="616.42" cy="141.55" r="1.8" fill="#000"/>
<text x="616.42" y="120.15" font-size="9.75" text-anchor="middle" fill="#000" stroke="#000" stroke-width="0.18" stroke-opacity="0.6" textLength="34.33" lengthAdjust="spacingAndGlyphs">8:29 am</text>
<text x="616.42" y="128.35" font-size="9.75" text-anchor="middle" fill="#000" stroke="#000" stroke-width="0.18" stroke-opacity="0.6" textLength="26.41" lengthAdjust="spacingAndGlyphs">12.5 ft</text>
<text x="616.42" y="138.55" font-size="9.75" text-anchor="middle" fill="#000" stroke="#000" stroke-width="0.18" stroke-opacity="0.6" textLength="29.04" lengthAdjust="spacingAndGlyphs">3.82 m</text>
<circle cx="635.92" cy="387.40" r="1.8" fill="#000"/>
<text x="635.92" y="398.20" font-size="9.75" text-anchor="middle" fill="#000" stroke="#000" stroke-width="0.18" stroke-opacity="0.6" textLength="29.04" lengthAdjust="spacingAndGlyphs">0.35 m</text>
<text x="635.92" y="408.30" font-size="9.75" text-anchor="middle" fill="#000" stroke="#000" stroke-width="0.18" stroke-opacity="0.6" textLength="21.12" lengthAdjust="spacingAndGlyphs">1.1 ft</text>
<text x="635.92" y="418.40" font-size="9.75" text-anchor="middle" fill="#000" stroke="#000" stroke-width="0.18" stroke-opacity="0.6" textLength="34.33" lengthAdjust="spacingAndGlyphs">2:36 pm</text>
<circle cx="655.78" cy="135.88" r="1.8" fill="#000"/>
<text x="655.78" y="114.48" font-size="9.75" text-anchor="middle" fill="#000" stroke="#000" stroke-width="0.18" stroke-opacity="0.6" textLength="34.33" lengthAdjust="spacingAndGlyphs">8:50 pm</text>
<text x="655.78" y="122.68" font-size="9.75" text-anchor="middle" fill="#000" stroke="#000" stroke-width="0.18" stroke-opacity="0.6" textLength="26.41" lengthAdjust="spacingAndGlyphs">12.8 ft</text>
<text x="655.78" y="132.88" font-size="9.75" text-anchor="middle" fill="#000" stroke="#000" stroke-width="0.18" stroke-opacity="0.6" textLength="29.04" lengthAdjust="spacingAndGlyphs">3.90 m</text>
<circle cx="675.75" cy="379.61" r="1.8" fill="#000"/>
<text x="675.75" y="390.41" font-size="9.75" text-anchor="middle" fill="#000" stroke="#000" stroke-width="0.18" stroke-opacity="0.6" textLength="29.04" lengthAdjust="spacingAndGlyphs">0.46 m</text>
<text x="675.75" y="400.51" font-size="9.75" text-anchor="middle" fill="#000" stroke="#000" stroke-width="0.18" stroke-opacity="0.6" textLength="21.12" lengthAdjust="spacingAndGlyphs">1.5 ft</text>
<text x="675.75" y="410.61" font-size="9.75" text-anchor="middle" fill="#000" stroke="#000" stroke-width="0.18" stroke-opacity="0.6" textLength="34.33" lengthAdjust="spacingAndGlyphs">3:06 am</text>
<circle cx="695.41" cy="159.27" r="1.8" fill="#000"/>
<text x="695.41" y="137.87" font-size="9.75" text-anchor="middle" fill="#000" stroke="#000" stroke-width="0.18" stroke-opacity="0.6" textLength="34.33" lengthAdjust="spacingAndGlyphs">9:16 am</text>
<text x="695.41" y="146.07" font-size="9.75" text-anchor="middle" fill="#000" stroke="#000" stroke-width="0.18" stroke-opacity="0.6" textLength="26.41" lengthAdjust="spacingAndGlyphs">11.7 ft</text>
<text x="695.41" y="156.27" font-size="9.75" text-anchor="middle" fill="#000" stroke="#000" stroke-width="0.18" stroke-opacity="0.6" textLength="29.04" lengthAdjust="spacingAndGlyphs">3.57 m</text>
<path d="M391.59,403.2 L400.59,403.2 L396.09,410.2 Z" fill="#eeee50" stroke="#8a8a30" stroke-width="0.8" stroke-linejoin="round"/>
<text x="46.4" y="480" font-size="11" text-anchor="end" fill="#000">Sunrise</text>
<text x="746.3" y="480" font-size="11" text-anchor="start" fill="#000">Sunrise</text>
<text x="46.4" y="493.8" font-size="11" text-anchor="end" fill="#000">Sunset</text>
<text x="746.3" y="493.8" font-size="11" text-anchor="start" fill="#000">Sunset</text>
<text x="46.4" y="507.2" font-size="11" text-anchor="end" fill="#000">Moonrise</text>
<text x="746.3" y="507.2" font-size="11" text-anchor="start" fill="#000">Moonrise</text>
<text x="46.4" y="520.6" font-size="11" text-anchor="end" fill="#000">Moonset</text>
<text x="746.3" y="520.6" font-size="11" text-anchor="start" fill="#000">Moonset</text>
<circle cx="75.00" cy="475.60" r="4.4" fill="#b8b842" stroke="#6a6a2a" stroke-width="0.5"/><path d="M76.30,472.40 L75.00,468.90 L73.70,472.40 Z M78.45,475.85 L81.38,473.53 L77.65,473.37 Z M75.83,478.95 L78.94,481.02 L77.94,477.42 Z M72.07,477.42 L71.07,481.02 L74.18,478.95 Z M72.36,473.37 L68.63,473.53 L71.56,475.85 Z" fill="#b8b842" stroke="#6a6a2a" stroke-width="0.5" stroke-linejoin="round"/><circle cx="75.00" cy="475.60" r="4.1000000000000005" fill="#b8b842"/>
<text x="82.00" y="479.80" font-size="10.0" fill="#000" stroke="#000" stroke-width="0.18" stroke-opacity="0.6" textLength="31.69" lengthAdjust="spacingAndGlyphs">6:36am</text>
<circle cx="151.55" cy="475.60" r="4.4" fill="#b8b842" stroke="#6a6a2a" stroke-width="0.5"/><path d="M152.85,472.40 L151.55,468.90 L150.25,472.40 Z M154.99,475.85 L157.92,473.53 L154.19,473.37 Z M152.37,478.95 L155.48,481.02 L154.48,477.42 Z M148.61,477.42 L147.61,481.02 L150.72,478.95 Z M148.90,473.37 L145.17,473.53 L148.10,475.85 Z" fill="#b8b842" stroke="#6a6a2a" stroke-width="0.5" stroke-linejoin="round"/><circle cx="151.55" cy="475.60" r="4.1000000000000005" fill="#b8b842"/>
<text x="158.55" y="479.80" font-size="10.0" fill="#000" stroke="#000" stroke-width="0.18" stroke-opacity="0.6" textLength="31.69" lengthAdjust="spacingAndGlyphs">6:37am</text>
<circle cx="228.09" cy="475.60" r="4.4" fill="#b8b842" stroke="#6a6a2a" stroke-width="0.5"/><path d="M229.39,472.40 L228.09,468.90 L226.79,472.40 Z M231.53,475.85 L234.46,473.53 L230.73,473.37 Z M228.92,478.95 L232.02,481.02 L231.02,477.42 Z M225.15,477.42 L224.15,481.02 L227.26,478.95 Z M225.44,473.37 L221.71,473.53 L224.64,475.85 Z" fill="#b8b842" stroke="#6a6a2a" stroke-width="0.5" stroke-linejoin="round"/><circle cx="228.09" cy="475.60" r="4.1000000000000005" fill="#b8b842"/>
<text x="235.09" y="479.80" font-size="10.0" fill="#000" stroke="#000" stroke-width="0.18" stroke-opacity="0.6" textLength="31.69" lengthAdjust="spacingAndGlyphs">6:38am</text>
<circle cx="304.63" cy="475.60" r="4.4" fill="#b8b842" stroke="#6a6a2a" stroke-width="0.5"/><path d="M305.93,472.40 L304.63,468.90 L303.33,472.40 Z M308.07,475.85 L311.00,473.53 L307.27,473.37 Z M305.46,478.95 L308.57,481.02 L307.56,477.42 Z M301.69,477.42 L300.69,481.02 L303.80,478.95 Z M301.99,473.37 L298.26,473.53 L301.18,475.85 Z" fill="#b8b842" stroke="#6a6a2a" stroke-width="0.5" stroke-linejoin="round"/><circle cx="304.63" cy="475.60" r="4.1000000000000005" fill="#b8b842"/>
<text x="311.63" y="479.80" font-size="10.0" fill="#000" stroke="#000" stroke-width="0.18" stroke-opacity="0.6" textLength="31.69" lengthAdjust="spacingAndGlyphs">6:39am</text>
<circle cx="381.17" cy="475.60" r="4.4" fill="#b8b842" stroke="#6a6a2a" stroke-width="0.5"/><path d="M382.47,472.40 L381.17,468.90 L379.87,472.40 Z M384.61,475.85 L387.54,473.53 L383.81,473.37 Z M382.00,478.95 L385.11,481.02 L384.10,477.42 Z M378.24,477.42 L377.23,481.02 L380.34,478.95 Z M378.53,473.37 L374.80,473.53 L377.72,475.85 Z" fill="#b8b842" stroke="#6a6a2a" stroke-width="0.5" stroke-linejoin="round"/><circle cx="381.17" cy="475.60" r="4.1000000000000005" fill="#b8b842"/>
<text x="388.17" y="479.80" font-size="10.0" fill="#000" stroke="#000" stroke-width="0.18" stroke-opacity="0.6" textLength="31.69" lengthAdjust="spacingAndGlyphs">6:40am</text>
<circle cx="457.71" cy="475.60" r="4.4" fill="#b8b842" stroke="#6a6a2a" stroke-width="0.5"/><path d="M459.01,472.40 L457.71,468.90 L456.41,472.40 Z M461.15,475.85 L464.08,473.53 L460.35,473.37 Z M458.54,478.95 L461.65,481.02 L460.64,477.42 Z M454.78,477.42 L453.77,481.02 L456.88,478.95 Z M455.07,473.37 L451.34,473.53 L454.26,475.85 Z" fill="#b8b842" stroke="#6a6a2a" stroke-width="0.5" stroke-linejoin="round"/><circle cx="457.71" cy="475.60" r="4.1000000000000005" fill="#b8b842"/>
<text x="464.71" y="479.80" font-size="10.0" fill="#000" stroke="#000" stroke-width="0.18" stroke-opacity="0.6" textLength="31.69" lengthAdjust="spacingAndGlyphs">6:41am</text>
<circle cx="534.25" cy="475.60" r="4.4" fill="#b8b842" stroke="#6a6a2a" stroke-width="0.5"/><path d="M535.55,472.40 L534.25,468.90 L532.95,472.40 Z M537.70,475.85 L540.62,473.53 L536.89,473.37 Z M535.08,478.95 L538.19,481.02 L537.18,477.42 Z M531.32,477.42 L530.31,481.02 L533.42,478.95 Z M531.61,473.37 L527.88,473.53 L530.81,475.85 Z" fill="#b8b842" stroke="#6a6a2a" stroke-width="0.5" stroke-linejoin="round"/><circle cx="534.25" cy="475.60" r="4.1000000000000005" fill="#b8b842"/>
<text x="541.25" y="479.80" font-size="10.0" fill="#000" stroke="#000" stroke-width="0.18" stroke-opacity="0.6" textLength="31.69" lengthAdjust="spacingAndGlyphs">6:42am</text>
<circle cx="610.79" cy="475.60" r="4.4" fill="#b8b842" stroke="#6a6a2a" stroke-width="0.5"/><path d="M612.09,472.40 L610.79,468.90 L609.49,472.40 Z M614.24,475.85 L617.16,473.53 L613.43,473.37 Z M611.62,478.95 L614.73,481.02 L613.72,477.42 Z M607.86,477.42 L606.85,481.02 L609.96,478.95 Z M608.15,473.37 L604.42,473.53 L607.35,475.85 Z" fill="#b8b842" stroke="#6a6a2a" stroke-width="0.5" stroke-linejoin="round"/><circle cx="610.79" cy="475.60" r="4.1000000000000005" fill="#b8b842"/>
<text x="617.79" y="479.80" font-size="10.0" fill="#000" stroke="#000" stroke-width="0.18" stroke-opacity="0.6" textLength="31.69" lengthAdjust="spacingAndGlyphs">6:43am</text>
<circle cx="687.33" cy="475.60" r="4.4" fill="#b8b842" stroke="#6a6a2a" stroke-width="0.5"/><path d="M688.63,472.40 L687.33,468.90 L686.03,472.40 Z M690.78,475.85 L693.71,473.53 L689.97,473.37 Z M688.16,478.95 L691.27,481.02 L690.27,477.42 Z M684.40,477.42 L683.39,481.02 L686.50,478.95 Z M684.69,473.37 L680.96,473.53 L683.89,475.85 Z" fill="#b8b842" stroke="#6a6a2a" stroke-width="0.5" stroke-linejoin="round"/><circle cx="687.33" cy="475.60" r="4.1000000000000005" fill="#b8b842"/>
<text x="694.33" y="479.80" font-size="10.0" fill="#000" stroke="#000" stroke-width="0.18" stroke-opacity="0.6" textLength="31.69" lengthAdjust="spacingAndGlyphs">6:44am</text>
<circle cx="123.29" cy="489.00" r="4.4" fill="#8f5a2a" stroke="#5a5a2a" stroke-width="0.5"/><path d="M124.59,485.80 L123.29,482.10 L121.99,485.80 Z M126.73,489.25 L129.85,486.87 L125.93,486.77 Z M124.12,492.35 L127.34,494.58 L126.22,490.82 Z M120.35,490.82 L119.23,494.58 L122.46,492.35 Z M120.65,486.77 L116.72,486.87 L119.84,489.25 Z" fill="#8f5a2a" stroke="#5a5a2a" stroke-width="0.5" stroke-linejoin="round"/><circle cx="123.29" cy="489.00" r="4.1000000000000005" fill="#8f5a2a"/>
<text x="130.29" y="493.70" font-size="10.0" fill="#000" stroke="#000" stroke-width="0.18" stroke-opacity="0.6" textLength="31.69" lengthAdjust="spacingAndGlyphs">9:45pm</text>
<circle cx="199.72" cy="489.00" r="4.4" fill="#8f5a2a" stroke="#5a5a2a" stroke-width="0.5"/><path d="M201.02,485.80 L199.72,482.10 L198.42,485.80 Z M203.17,489.25 L206.28,486.87 L202.36,486.77 Z M200.55,492.35 L203.78,494.58 L202.65,490.82 Z M196.79,490.82 L195.67,494.58 L198.89,492.35 Z M197.08,486.77 L193.16,486.87 L196.28,489.25 Z" fill="#8f5a2a" stroke="#5a5a2a" stroke-width="0.5" stroke-linejoin="round"/><circle cx="199.72" cy="489.00" r="4.1000000000000005" fill="#8f5a2a"/>
<text x="206.72" y="493.70" font-size="10.0" fill="#000" stroke="#000" stroke-width="0.18" stroke-opacity="0.6" textLength="31.69" lengthAdjust="spacingAndGlyphs">9:44pm</text>
<circle cx="276.16" cy="489.00" r="4.4" fill="#8f5a2a" stroke="#5a5a2a" stroke-width="0.5"/><path d="M277.46,485.80 L276.16,482.10 L274.86,485.80 Z M279.60,489.25 L282.72,486.87 L278.80,486.77 Z M276.99,492.35 L280.21,494.58 L279.09,490.82 Z M273.22,490.82 L272.10,494.58 L275.33,492.35 Z M273.52,486.77 L269.59,486.87 L272.71,489.25 Z" fill="#8f5a2a" stroke="#5a5a2a" stroke-width="0.5" stroke-linejoin="round"/><circle cx="276.16" cy="489.00" r="4.1000000000000005" fill="#8f5a2a"/>
<text x="283.16" y="493.70" font-size="10.0" fill="#000" stroke="#000" stroke-width="0.18" stroke-opacity="0.6" textLength="31.69" lengthAdjust="spacingAndGlyphs">9:43pm</text>
<circle cx="352.59" cy="489.00" r="4.4" fill="#8f5a2a" stroke="#5a5a2a" stroke-width="0.5"/><path d="M353.89,485.80 L352.59,482.10 L351.29,485.80 Z M356.04,489.25 L359.15,486.87 L355.23,486.77 Z M353.42,492.35 L356.65,494.58 L355.52,490.82 Z M349.66,490.82 L348.54,494.58 L351.76,492.35 Z M349.95,486.77 L346.03,486.87 L349.15,489.25 Z" fill="#8f5a2a" stroke="#5a5a2a" stroke-width="0.5" stroke-linejoin="round"/><circle cx="352.59" cy="489.00" r="4.1000000000000005" fill="#8f5a2a"/>
<text x="359.59" y="493.70" font-size="10.0" fill="#000" stroke="#000" stroke-width="0.18" stroke-opacity="0.6" textLength="31.69" lengthAdjust="spacingAndGlyphs">9:42pm</text>
<circle cx="429.03" cy="489.00" r="4.4" fill="#8f5a2a" stroke="#5a5a2a" stroke-width="0.5"/><path d="M430.33,485.80 L429.03,482.10 L427.73,485.80 Z M432.47,489.25 L435.59,486.87 L431.67,486.77 Z M429.86,492.35 L433.08,494.58 L431.96,490.82 Z M426.09,490.82 L424.97,494.58 L428.20,492.35 Z M426.39,486.77 L422.46,486.87 L425.58,489.25 Z" fill="#8f5a2a" stroke="#5a5a2a" stroke-width="0.5" stroke-linejoin="round"/><circle cx="429.03" cy="489.00" r="4.1000000000000005" fill="#8f5a2a"/>
<text x="436.03" y="493.70" font-size="10.0" fill="#000" stroke="#000" stroke-width="0.18" stroke-opacity="0.6" textLength="31.69" lengthAdjust="spacingAndGlyphs">9:41pm</text>
<circle cx="505.46" cy="489.00" r="4.4" fill="#8f5a2a" stroke="#5a5a2a" stroke-width="0.5"/><path d="M506.76,485.80 L505.46,482.10 L504.16,485.80 Z M508.91,489.25 L512.02,486.87 L508.10,486.77 Z M506.29,492.35 L509.52,494.58 L508.39,490.82 Z M502.53,490.82 L501.41,494.58 L504.63,492.35 Z M502.82,486.77 L498.90,486.87 L502.02,489.25 Z" fill="#8f5a2a" stroke="#5a5a2a" stroke-width="0.5" stroke-linejoin="round"/><circle cx="505.46" cy="489.00" r="4.1000000000000005" fill="#8f5a2a"/>
<text x="512.46" y="493.70" font-size="10.0" fill="#000" stroke="#000" stroke-width="0.18" stroke-opacity="0.6" textLength="31.69" lengthAdjust="spacingAndGlyphs">9:40pm</text>
<circle cx="581.90" cy="489.00" r="4.4" fill="#8f5a2a" stroke="#5a5a2a" stroke-width="0.5"/><path d="M583.20,485.80 L581.90,482.10 L580.60,485.80 Z M585.34,489.25 L588.46,486.87 L584.54,486.77 Z M582.73,492.35 L585.95,494.58 L584.83,490.82 Z M578.96,490.82 L577.84,494.58 L581.07,492.35 Z M579.25,486.77 L575.33,486.87 L578.45,489.25 Z" fill="#8f5a2a" stroke="#5a5a2a" stroke-width="0.5" stroke-linejoin="round"/><circle cx="581.90" cy="489.00" r="4.1000000000000005" fill="#8f5a2a"/>
<text x="588.90" y="493.70" font-size="10.0" fill="#000" stroke="#000" stroke-width="0.18" stroke-opacity="0.6" textLength="31.69" lengthAdjust="spacingAndGlyphs">9:39pm</text>
<circle cx="658.33" cy="489.00" r="4.4" fill="#8f5a2a" stroke="#5a5a2a" stroke-width="0.5"/><path d="M659.63,485.80 L658.33,482.10 L657.03,485.80 Z M661.78,489.25 L664.89,486.87 L660.97,486.77 Z M659.16,492.35 L662.39,494.58 L661.26,490.82 Z M655.40,490.82 L654.28,494.58 L657.50,492.35 Z M655.69,486.77 L651.77,486.87 L654.89,489.25 Z" fill="#8f5a2a" stroke="#5a5a2a" stroke-width="0.5" stroke-linejoin="round"/><circle cx="658.33" cy="489.00" r="4.1000000000000005" fill="#8f5a2a"/>
<text x="665.33" y="493.70" font-size="10.0" fill="#000" stroke="#000" stroke-width="0.18" stroke-opacity="0.6" textLength="31.69" lengthAdjust="spacingAndGlyphs">9:38pm</text>
<circle cx="116.28" cy="502.7" r="5" fill="#ffffcc" stroke="#808080" stroke-width="0.9"/>
<text x="123.38" y="507.40" font-size="10.0" fill="#000" stroke="#000" stroke-width="0.18" stroke-opacity="0.6" textLength="31.69" lengthAdjust="spacingAndGlyphs">7:33pm</text>
<circle cx="195.63" cy="502.7" r="5" fill="#ffffcc" stroke="#808080" stroke-width="0.9"/>
<text x="202.73" y="507.40" font-size="10.0" fill="#000" stroke="#000" stroke-width="0.18" stroke-opacity="0.6" textLength="31.69" lengthAdjust="spacingAndGlyphs">8:27pm</text>
<circle cx="274.56" cy="502.7" r="5" fill="#ffffcc" stroke="#808080" stroke-width="0.9"/>
<text x="281.66" y="507.40" font-size="10.0" fill="#000" stroke="#000" stroke-width="0.18" stroke-opacity="0.6" textLength="31.69" lengthAdjust="spacingAndGlyphs">9:13pm</text>
<circle cx="353.12" cy="502.7" r="5" fill="#ffffcc" stroke="#808080" stroke-width="0.9"/>
<text x="360.22" y="507.40" font-size="10.0" fill="#000" stroke="#000" stroke-width="0.18" stroke-opacity="0.6" textLength="31.69" lengthAdjust="spacingAndGlyphs">9:52pm</text>
<circle cx="431.47" cy="502.7" r="5" fill="#ffffcc" stroke="#808080" stroke-width="0.9"/>
<text x="438.57" y="507.40" font-size="10.0" fill="#000" stroke="#000" stroke-width="0.18" stroke-opacity="0.6" textLength="36.97" lengthAdjust="spacingAndGlyphs">10:27pm</text>
<circle cx="509.60" cy="502.7" r="5" fill="#ffffcc" stroke="#808080" stroke-width="0.9"/>
<text x="516.70" y="507.40" font-size="10.0" fill="#000" stroke="#000" stroke-width="0.18" stroke-opacity="0.6" textLength="36.97" lengthAdjust="spacingAndGlyphs">10:58pm</text>
<circle cx="587.69" cy="502.7" r="5" fill="#ffffcc" stroke="#808080" stroke-width="0.9"/>
<text x="594.79" y="507.40" font-size="10.0" fill="#000" stroke="#000" stroke-width="0.18" stroke-opacity="0.6" textLength="36.97" lengthAdjust="spacingAndGlyphs">11:28pm</text>
<circle cx="665.71" cy="502.7" r="5" fill="#ffffcc" stroke="#808080" stroke-width="0.9"/>
<text x="672.81" y="507.40" font-size="10.0" fill="#000" stroke="#000" stroke-width="0.18" stroke-opacity="0.6" textLength="36.97" lengthAdjust="spacingAndGlyphs">11:57pm</text>
<circle cx="146.76" cy="516.5" r="5" fill="#c8c8b8" stroke="#707070" stroke-width="0.9"/>
<text x="153.76" y="520.00" font-size="10.0" fill="#000" stroke="#000" stroke-width="0.18" stroke-opacity="0.6" textLength="31.69" lengthAdjust="spacingAndGlyphs">5:07am</text>
<circle cx="227.13" cy="516.5" r="5" fill="#c8c8b8" stroke="#707070" stroke-width="0.9"/>
<text x="234.13" y="520.00" font-size="10.0" fill="#000" stroke="#000" stroke-width="0.18" stroke-opacity="0.6" textLength="31.69" lengthAdjust="spacingAndGlyphs">6:20am</text>
<circle cx="307.66" cy="516.5" r="5" fill="#c8c8b8" stroke="#707070" stroke-width="0.9"/>
<text x="314.66" y="520.00" font-size="10.0" fill="#000" stroke="#000" stroke-width="0.18" stroke-opacity="0.6" textLength="31.69" lengthAdjust="spacingAndGlyphs">7:36am</text>
<circle cx="388.18" cy="516.5" r="5" fill="#c8c8b8" stroke="#707070" stroke-width="0.9"/>
<text x="395.18" y="520.00" font-size="10.0" fill="#000" stroke="#000" stroke-width="0.18" stroke-opacity="0.6" textLength="31.69" lengthAdjust="spacingAndGlyphs">8:52am</text>
<circle cx="468.65" cy="516.5" r="5" fill="#c8c8b8" stroke="#707070" stroke-width="0.9"/>
<text x="475.65" y="520.00" font-size="10.0" fill="#000" stroke="#000" stroke-width="0.18" stroke-opacity="0.6" textLength="36.97" lengthAdjust="spacingAndGlyphs">10:07am</text>
<circle cx="548.96" cy="516.5" r="5" fill="#c8c8b8" stroke="#707070" stroke-width="0.9"/>
<text x="555.96" y="520.00" font-size="10.0" fill="#000" stroke="#000" stroke-width="0.18" stroke-opacity="0.6" textLength="36.97" lengthAdjust="spacingAndGlyphs">11:19am</text>
<circle cx="629.06" cy="516.5" r="5" fill="#c8c8b8" stroke="#707070" stroke-width="0.9"/>
<text x="636.06" y="520.00" font-size="10.0" fill="#000" stroke="#000" stroke-width="0.18" stroke-opacity="0.6" textLength="36.97" lengthAdjust="spacingAndGlyphs">12:27pm</text>
<text x="268.60" y="533.30" font-size="10.0" text-anchor="end" fill="#000" stroke="#000" stroke-width="0.18" stroke-opacity="0.6" textLength="41.71" lengthAdjust="spacingAndGlyphs">Full Moon</text>
<rect x="270.6" y="526.6" width="1.0" height="9.9" fill="#333"/>
<text x="274.50" y="533.80" font-size="10.0" fill="#000" stroke="#000" stroke-width="0.18" stroke-opacity="0.6" textLength="31.69" lengthAdjust="spacingAndGlyphs">8:15pm</text>
</svg></body></html>
